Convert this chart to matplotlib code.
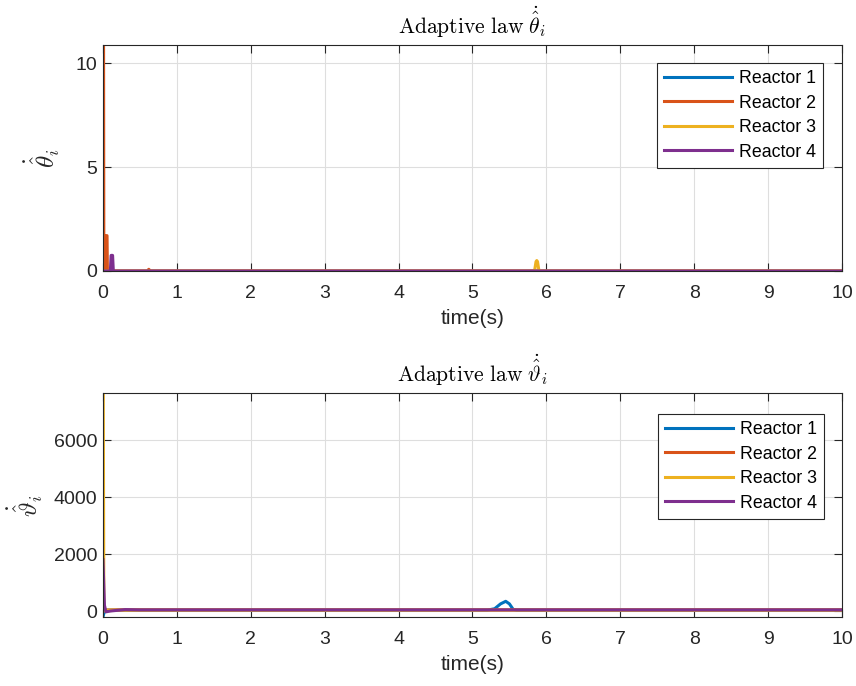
import numpy as np
import matplotlib.pyplot as plt

plt.rcParams['font.family'] = ['Liberation Sans', 'DejaVu Sans']
plt.rcParams['mathtext.fontset'] = 'cm'

colors = ['#0072BD', '#D95319', '#EDB120', '#7E2F8E']
labels = ['Reactor 1', 'Reactor 2', 'Reactor 3', 'Reactor 4']

# adaptive law theta_hat dot
th_t = [
    [0, 10],
    [0, 0.004, 0.008, 0.012, 0.018, 0.02, 0.055, 0.06, 0.6, 0.62, 0.64, 10],
    [0, 5.84, 5.86, 5.87, 5.88, 5.9, 10],
    [0, 0.1, 0.11, 0.12, 0.13, 0.14, 10],
]
th_v = [
    [0, 0],
    [0, 10.87, 10.87, 0, 0, 1.7, 1.7, 0, 0, 0.08, 0, 0],
    [0, 0, 0.45, 0.5, 0.45, 0, 0],
    [0, 0, 0.75, 0.75, 0.75, 0, 0],
]

# adaptive law vartheta_hat dot
vt_t = [
    [0, 0.01, 0.03, 5.2, 5.3, 5.38, 5.45, 5.5, 5.55, 5.6, 10],
    [0, 0.02, 0.2, 10],
    [0, 0.004, 0.012, 0.05, 10],
    [0, 0.02, 0.04, 0.1, 0.3, 0.5, 10],
]
vt_v = [
    [-210, -100, 30, 30, 80, 250, 340, 250, 60, 30, 30],
    [30, 30, 40, 40],
    [7650, 7650, 0, 30, 30],
    [1800, 200, -30, 0, 50, 40, 40],
]

fig = plt.figure(figsize=(8.56, 6.86), dpi=100)
ax1 = fig.add_axes([0.1203, 0.605, 0.8633, 0.3294])
ax2 = fig.add_axes([0.1203, 0.1006, 0.8633, 0.3265])

panels = [
    (ax1, th_t, th_v, r'$\mathrm{Adaptive\ law}\ \dot{\hat{\theta}}_i$',
     r'$\dot{\hat{\theta}}_i$', (0, 10.87), [0, 5, 10], (0.974, 0.92), -0.055),
    (ax2, vt_t, vt_v, r'$\mathrm{Adaptive\ law}\ \dot{\hat{\vartheta}}_i$',
     r'$\dot{\hat{\vartheta}}_i$', (-210, 7650), [0, 2000, 4000, 6000], (0.976, 0.906), -0.078),
]

for ax, ts, vs, title, ylab, ylim, yt, lpos, ylx in panels:
    for t, v, c, lab in zip(ts, vs, colors, labels):
        ax.plot(t, v, color=c, lw=2.2, label=lab)
    ax.set_xlim(0, 10)
    ax.set_ylim(*ylim)
    ax.set_xticks(range(11))
    ax.set_yticks(yt)
    ax.grid(True, color='#dedede', lw=0.8)
    ax.set_axisbelow(True)
    ax.tick_params(direction='in', top=True, right=True, labelsize=14,
                   colors='#262626', length=5.5, width=0.8)
    ax.tick_params(axis='x', pad=10)
    ax.tick_params(axis='y', pad=4)
    for s in ax.spines.values():
        s.set_color('#262626')
        s.set_linewidth(0.8)
    ax.set_title(title, fontsize=15.5, pad=8)
    ax.set_xlabel('time(s)', fontsize=15, color='#262626', labelpad=5)
    ax.set_ylabel(ylab, fontsize=18, color='#262626')
    ax.yaxis.set_label_coords(ylx, 0.5)
    leg = ax.legend(loc='upper right', bbox_to_anchor=lpos, fontsize=12.8,
                    fancybox=False, edgecolor='#262626', framealpha=1,
                    borderpad=0.4, labelspacing=0.42, handlelength=3.8,
                    handletextpad=0.4, borderaxespad=0)
    leg.get_frame().set_linewidth(0.8)

fig.savefig('out.png', dpi=100)
